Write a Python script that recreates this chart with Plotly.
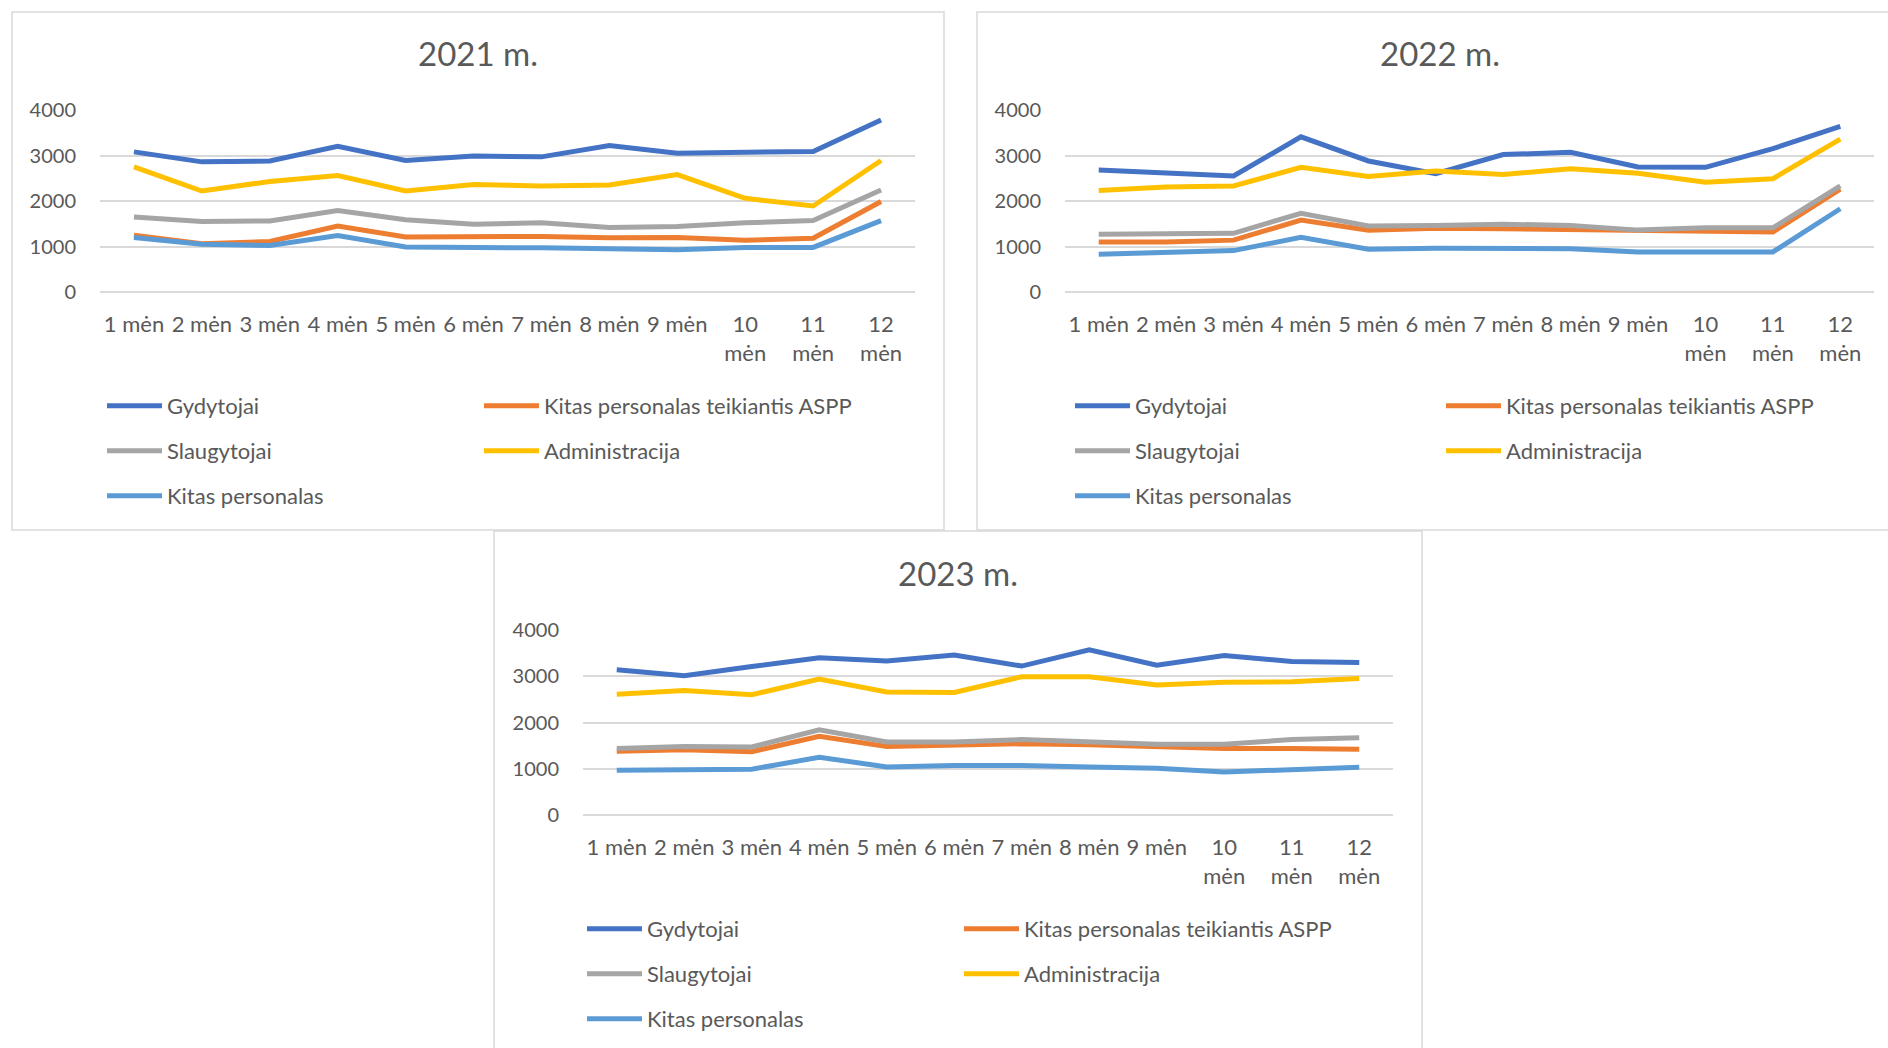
import plotly.graph_objects as go

W, H = 1888, 1048

months = ["1 mėn", "2 mėn", "3 mėn", "4 mėn", "5 mėn", "6 mėn",
          "7 mėn", "8 mėn", "9 mėn", "10 mėn", "11 mėn", "12 mėn"]
month_ticks = ["1 mėn", "2 mėn", "3 mėn", "4 mėn", "5 mėn", "6 mėn",
               "7 mėn", "8 mėn", "9 mėn", "10<br>mėn", "11<br>mėn", "12<br>mėn"]
y_ticks = [0, 1000, 2000, 3000, 4000]

series_names = ["Gydytojai", "Kitas personalas teikiantis ASPP", "Slaugytojai",
                "Administracija", "Kitas personalas"]
series_colors = ["#4472C4", "#ED7D31", "#A5A5A5", "#FFC000", "#5B9BD5"]

# 2021 m.
gyd_2021 = [3080, 2860, 2880, 3200, 2890, 2990, 2970, 3220, 3050, 3060, 3090, 3780]
aspp_2021 = [1250, 1060, 1110, 1450, 1210, 1210, 1220, 1190, 1200, 1140, 1180, 1990]
slaug_2021 = [1650, 1550, 1560, 1790, 1590, 1490, 1520, 1420, 1440, 1520, 1570, 2240]
admin_2021 = [2750, 2220, 2430, 2560, 2220, 2360, 2330, 2350, 2580, 2060, 1890, 2890]
kitas_2021 = [1200, 1050, 1020, 1240, 990, 990, 970, 950, 930, 980, 980, 1570]

# 2022 m.
gyd_2022 = [2680, 2610, 2550, 3410, 2880, 2600, 3020, 3070, 2750, 2740, 3150, 3640]
aspp_2022 = [1100, 1100, 1140, 1580, 1360, 1400, 1390, 1370, 1360, 1320, 1320, 2260]
slaug_2022 = [1270, 1270, 1290, 1730, 1450, 1460, 1490, 1460, 1360, 1410, 1410, 2330]
admin_2022 = [2230, 2310, 2330, 2740, 2540, 2660, 2580, 2710, 2610, 2410, 2490, 3360]
kitas_2022 = [830, 870, 910, 1200, 940, 960, 960, 950, 880, 890, 880, 1830]

# 2023 m.
gyd_2023 = [3140, 3010, 3210, 3400, 3330, 3460, 3220, 3570, 3240, 3450, 3320, 3300]
aspp_2023 = [1380, 1410, 1370, 1700, 1480, 1520, 1540, 1520, 1480, 1440, 1440, 1420]
slaug_2023 = [1440, 1480, 1470, 1840, 1580, 1580, 1630, 1580, 1530, 1530, 1630, 1670]
admin_2023 = [2610, 2690, 2600, 2940, 2660, 2650, 2990, 2990, 2810, 2870, 2880, 2950]
kitas_2023 = [970, 990, 990, 1250, 1040, 1070, 1070, 1040, 1010, 930, 980, 1030]

TEXT = "#595959"
GRID = "#D9D9D9"
FONT = "Lato, 'Noto Sans', sans-serif"


def px(x):
    return x / W


def py(y):
    return 1 - y / H


# per panel: title, series, plot area (pixels), box, title pos, legend text starts, legend top
panels = [
    dict(title="2021 m.", data=[gyd_2021, aspp_2021, slaug_2021, admin_2021, kitas_2021],
         area=(100, 915, 110, 292), box=(12, 944, 12, 530), tpos=(478, 53),
         leg_x=(167, 544), leg_top=385),
    dict(title="2022 m.", data=[gyd_2022, aspp_2022, slaug_2022, admin_2022, kitas_2022],
         area=(1065, 1874, 110, 292), box=(977, 1905, 12, 530), tpos=(1440, 53),
         leg_x=(1135, 1506), leg_top=385),
    dict(title="2023 m.", data=[gyd_2023, aspp_2023, slaug_2023, admin_2023, kitas_2023],
         area=(583, 1393, 630, 815), box=(494, 1422, 531, 1065), tpos=(958, 573),
         leg_x=(647, 1024), leg_top=908),
]

# column of each series in the two-column legend
legend_col = [0, 1, 0, 1, 0]
ITEM_W = 55
LEG_SIZE = 22

fig = go.Figure()
layout = {}
shapes = []
annotations = []

for i, p in enumerate(panels):
    ax = "" if i == 0 else str(i + 1)
    x0, x1, y0, y1 = p["area"]
    leg_ids = ["legend" + ("" if i == 0 else str(2 * i + 1)), "legend" + str(2 * i + 2)]

    for name, color, vals, col in zip(series_names, series_colors, p["data"], legend_col):
        fig.add_trace(go.Scatter(
            x=months, y=vals, name=name, mode="lines",
            line=dict(color=color, width=5),
            xaxis="x" + ax, yaxis="y" + ax,
            legend=leg_ids[col], legendgroup=f"{name}_{i}",
        ))

    layout["xaxis" + ax] = dict(
        domain=[px(x0), px(x1)], anchor="y" + ax, type="category",
        range=[-0.5, 11.5], tickvals=months, ticktext=month_ticks, tickangle=0,
        showgrid=False, showline=False, zeroline=False, ticks="",
        ticklabelstandoff=17, tickfont=dict(size=22, color=TEXT, family=FONT),
    )
    layout["yaxis" + ax] = dict(
        domain=[py(y1), py(y0)], anchor="x" + ax, range=[0, 4000],
        tickvals=y_ticks, showgrid=True, gridcolor=GRID, gridwidth=1.5,
        zeroline=True, zerolinecolor=GRID, zerolinewidth=1.5, showline=False,
        ticks="", ticklabelstandoff=23, tickfont=dict(size=20, color=TEXT, family=FONT),
    )

    for j, lid in enumerate(leg_ids):
        layout[lid] = dict(
            x=px(p["leg_x"][j] - ITEM_W - 10), xanchor="left", y=py(p["leg_top"]), yanchor="top",
            orientation="v", tracegroupgap=45 - (LEG_SIZE * 1.3 + 3), itemwidth=ITEM_W,
            bgcolor="rgba(0,0,0,0)", font=dict(size=LEG_SIZE, color=TEXT, family=FONT),
        )

    bx0, bx1, by0, by1 = p["box"]
    shapes.append(dict(type="rect", xref="paper", yref="paper",
                       x0=px(bx0), x1=px(bx1), y0=py(by1), y1=py(by0),
                       line=dict(color=GRID, width=1.5), fillcolor="rgba(0,0,0,0)",
                       layer="below"))
    annotations.append(dict(text=p["title"], xref="paper", yref="paper",
                            x=px(p["tpos"][0]), y=py(p["tpos"][1]),
                            xanchor="center", yanchor="middle", showarrow=False,
                            font=dict(size=33, color=TEXT, family=FONT)))

fig.update_layout(
    width=W, height=H, margin=dict(l=0, r=0, t=0, b=0, autoexpand=False),
    paper_bgcolor="white", plot_bgcolor="white",
    font=dict(family=FONT, color=TEXT),
    shapes=shapes, annotations=annotations, showlegend=True,
    **layout,
)

# pin the chart to the top-left corner of the page
pin = ("var gd = document.getElementById('{plot_id}');"
       "gd.style.position = 'absolute'; gd.style.left = '0px'; gd.style.top = '0px';")
fig.write_html("out.html", post_script=pin, config={"displayModeBar": False})
